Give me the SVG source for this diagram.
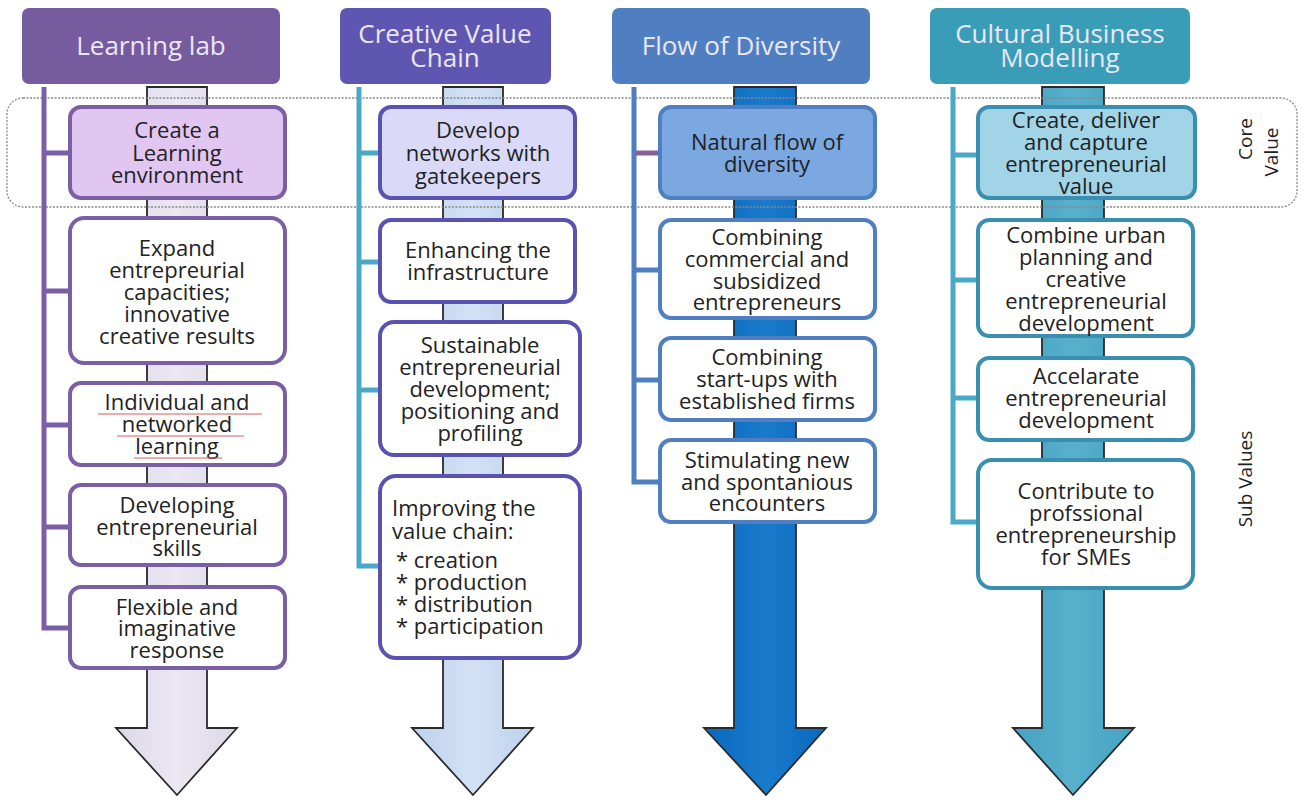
<svg xmlns="http://www.w3.org/2000/svg" width="1303" height="803" viewBox="0 0 1303 803">
<defs>
<style>
.t{font-family:"Open Sans","Liberation Sans",sans-serif;font-size:22px;fill:#222;text-anchor:middle}
.tl{font-family:"Open Sans","Liberation Sans",sans-serif;font-size:22px;fill:#222}
.h{font-family:"Open Sans","Liberation Sans",sans-serif;font-size:26px;fill:#ebe6f6;text-anchor:middle}
.side{font-family:"Open Sans","Liberation Sans",sans-serif;font-size:19px;fill:#222;text-anchor:middle}
.arr{stroke:#2a2a2a;stroke-width:1.8;stroke-linejoin:miter}
.box{stroke-width:4;fill:#fff}
.k1{fill:#e2c6f2}
.k2{fill:#dadaf8}
.k3{fill:#7ca8e2}
.k4{fill:#a0d4e6}
.ln{fill:none;stroke-width:5;stroke-linejoin:miter}
.sq{stroke:#e05a5a;stroke-width:1.2;fill:none}
</style>
<linearGradient id="g1" x1="0" x2="1" y1="0" y2="0"><stop offset="0" stop-color="#dcd8e8"/><stop offset="0.5" stop-color="#ebe8f3"/><stop offset="1" stop-color="#dcd8e8"/></linearGradient>
<linearGradient id="g2" x1="0" x2="1" y1="0" y2="0"><stop offset="0" stop-color="#bdd2ee"/><stop offset="0.5" stop-color="#d3e1f4"/><stop offset="1" stop-color="#bdd2ee"/></linearGradient>
<linearGradient id="g3" x1="0" x2="1" y1="0" y2="0"><stop offset="0" stop-color="#0868bd"/><stop offset="0.5" stop-color="#1a7bcc"/><stop offset="1" stop-color="#0868bd"/></linearGradient>
<linearGradient id="g4" x1="0" x2="1" y1="0" y2="0"><stop offset="0" stop-color="#44a2c2"/><stop offset="0.5" stop-color="#58b0cc"/><stop offset="1" stop-color="#44a2c2"/></linearGradient>
</defs>
<rect width="1303" height="803" fill="#fff"/>

<!-- big arrows -->
<g id="arrows">
<path class="arr" fill="url(#g1)" d="M147,87 H207 V728 H237 L177,795 L116,728 H147 Z"/>
<path class="arr" fill="url(#g2)" d="M443,87 H503 V728 H533 L473,795 L412,728 H443 Z"/>
<path class="arr" fill="url(#g3)" d="M734,87 H796 V728 H826 L766,795 L704,728 H734 Z"/>
<path class="arr" fill="url(#g4)" d="M1042,87 H1104 V728 H1134 L1073,795 L1013,728 H1042 Z"/>
</g>

<!-- core value dotted band -->
<g id="core-band">
<rect x="7" y="98" width="1290" height="109" rx="16" fill="none" stroke="#888" stroke-width="1.3" stroke-dasharray="2,1.5"/>
<text class="side" transform="translate(1252,139) rotate(-90)">Core</text>
<text class="side" transform="translate(1278,152) rotate(-90)">Value</text>
<text class="side" transform="translate(1252,479) rotate(-90)">Sub Values</text>
</g>

<!-- connectors -->
<g id="connectors">
<path class="ln" stroke="#7a5fa5" d="M44,87 V628 H72 M44,153 H72 M44,291 H72 M44,425 H72 M44,527 H72"/>
<path class="ln" stroke="#4aa8c8" d="M359,87 V566 H382 M359,153 H382 M359,262 H382 M359,390 H382"/>
<path class="ln" stroke="#4f7fc0" d="M634,87 V482 H662 M634,270 H662 M634,380 H662"/>
<path class="ln" stroke="#8b5f99" d="M636,153 H662"/>
<path class="ln" stroke="#4aa8c8" d="M953,87 V522 H980 M953,155 H980 M953,280 H980 M953,398 H980"/>
</g>

<!-- headers -->
<g id="h1"><rect x="22" y="8" width="258" height="76" rx="7" fill="#765b9f"/><text class="h" x="151" y="55">Learning lab</text></g>
<g id="h2"><rect x="340" y="8" width="211" height="76" rx="7" fill="#5f56b1"/><text class="h" x="445" y="43">Creative Value</text><text class="h" x="445" y="67">Chain</text></g>
<g id="h3"><rect x="612" y="8" width="258" height="76" rx="7" fill="#4f7fc0"/><text class="h" x="741" y="55">Flow of Diversity</text></g>
<g id="h4"><rect x="930" y="8" width="260" height="76" rx="7" fill="#3a9db8"/><text class="h" x="1060" y="43">Cultural Business</text><text class="h" x="1060" y="67">Modelling</text></g>

<!-- column 1 -->
<g id="c1n1"><rect class="box k1" x="70" y="107" width="215" height="91" rx="11" stroke="#7a5fa5"/>
<text class="t" x="177" y="138">Create a</text><text class="t" x="177" y="161">Learning</text><text class="t" x="177" y="183">environment</text></g>
<g id="c1n2"><rect class="box" x="70" y="218" width="215" height="145" rx="14" stroke="#7a5fa5"/>
<text class="t" x="177" y="256">Expand</text><text class="t" x="177" y="278">entrepreurial</text><text class="t" x="177" y="300">capacities;</text><text class="t" x="177" y="322">innovative</text><text class="t" x="177" y="344">creative results</text></g>
<g id="c1n3"><rect class="box" x="70" y="383" width="215" height="82" rx="11" stroke="#7a5fa5"/>
<text class="t" x="177" y="410">Individual and</text><text class="t" x="177" y="432">networked</text><text class="t" x="177" y="454">learning</text>
<path class="sq" d="M98,414 H262 M117,436 H244 M134,458 H222"/></g>
<g id="c1n4"><rect class="box" x="70" y="485" width="215" height="80" rx="11" stroke="#7a5fa5"/>
<text class="t" x="177" y="513">Developing</text><text class="t" x="177" y="535">entrepreneurial</text><text class="t" x="177" y="556">skills</text></g>
<g id="c1n5"><rect class="box" x="70" y="587" width="215" height="81" rx="11" stroke="#7a5fa5"/>
<text class="t" x="177" y="615">Flexible and</text><text class="t" x="177" y="636">imaginative</text><text class="t" x="177" y="658">response</text></g>

<!-- column 2 -->
<g id="c2n1"><rect class="box k2" x="380" y="107" width="195" height="91" rx="11" stroke="#5a52b0"/>
<text class="t" x="478" y="138">Develop</text><text class="t" x="478" y="161">networks with</text><text class="t" x="478" y="184">gatekeepers</text></g>
<g id="c2n2"><rect class="box" x="380" y="220" width="195" height="82" rx="11" stroke="#5a52b0"/>
<text class="t" x="478" y="258">Enhancing the</text><text class="t" x="478" y="280">infrastructure</text></g>
<g id="c2n3"><rect class="box" x="380" y="322" width="200" height="133" rx="14" stroke="#5a52b0"/>
<text class="t" x="480" y="353">Sustainable</text><text class="t" x="480" y="375">entrepreneurial</text><text class="t" x="480" y="397">development;</text><text class="t" x="480" y="419">positioning and</text><text class="t" x="480" y="441">profiling</text></g>
<g id="c2n4"><rect class="box" x="380" y="476" width="200" height="182" rx="16" stroke="#5a52b0"/>
<text class="tl" x="392" y="516">Improving the</text><text class="tl" x="392" y="539">value chain:</text>
<text class="tl" x="396" y="568">* creation</text><text class="tl" x="396" y="590">* production</text><text class="tl" x="396" y="612">* distribution</text><text class="tl" x="396" y="634">* participation</text></g>

<!-- column 3 -->
<g id="c3n1"><rect class="box k3" x="660" y="107" width="215" height="91" rx="11" stroke="#4f7fc0"/>
<text class="t" x="767" y="150">Natural flow of</text><text class="t" x="767" y="172">diversity</text></g>
<g id="c3n2"><rect class="box" x="660" y="220" width="215" height="98" rx="11" stroke="#4f7fc0"/>
<text class="t" x="767" y="245">Combining</text><text class="t" x="767" y="267">commercial and</text><text class="t" x="767" y="289">subsidized</text><text class="t" x="767" y="310">entrepreneurs</text></g>
<g id="c3n3"><rect class="box" x="660" y="338" width="215" height="82" rx="11" stroke="#4f7fc0"/>
<text class="t" x="767" y="365">Combining</text><text class="t" x="767" y="387">start-ups with</text><text class="t" x="767" y="409">established firms</text></g>
<g id="c3n4"><rect class="box" x="660" y="440" width="215" height="82" rx="11" stroke="#4f7fc0"/>
<text class="t" x="767" y="468">Stimulating new</text><text class="t" x="767" y="490">and spontanious</text><text class="t" x="767" y="511">encounters</text></g>

<!-- column 4 -->
<g id="c4n1"><rect class="box k4" x="978" y="107" width="217" height="91" rx="11" stroke="#3a8fb0"/>
<text class="t" x="1086" y="128">Create, deliver</text><text class="t" x="1086" y="150">and capture</text><text class="t" x="1086" y="172">entrepreneurial</text><text class="t" x="1086" y="194">value</text></g>
<g id="c4n2"><rect class="box" x="978" y="220" width="215" height="116" rx="11" stroke="#3a8fb0"/>
<text class="t" x="1086" y="243">Combine urban</text><text class="t" x="1086" y="265">planning and</text><text class="t" x="1086" y="287">creative</text><text class="t" x="1086" y="309">entrepreneurial</text><text class="t" x="1086" y="331">development</text></g>
<g id="c4n3"><rect class="box" x="978" y="358" width="215" height="82" rx="11" stroke="#3a8fb0"/>
<text class="t" x="1086" y="384">Accelarate</text><text class="t" x="1086" y="406">entrepreneurial</text><text class="t" x="1086" y="428">development</text></g>
<g id="c4n4"><rect class="box" x="978" y="460" width="215" height="128" rx="14" stroke="#3a8fb0"/>
<text class="t" x="1086" y="499">Contribute to</text><text class="t" x="1086" y="521">profssional</text><text class="t" x="1086" y="543">entrepreneurship</text><text class="t" x="1086" y="565">for SMEs</text></g>
</svg>
